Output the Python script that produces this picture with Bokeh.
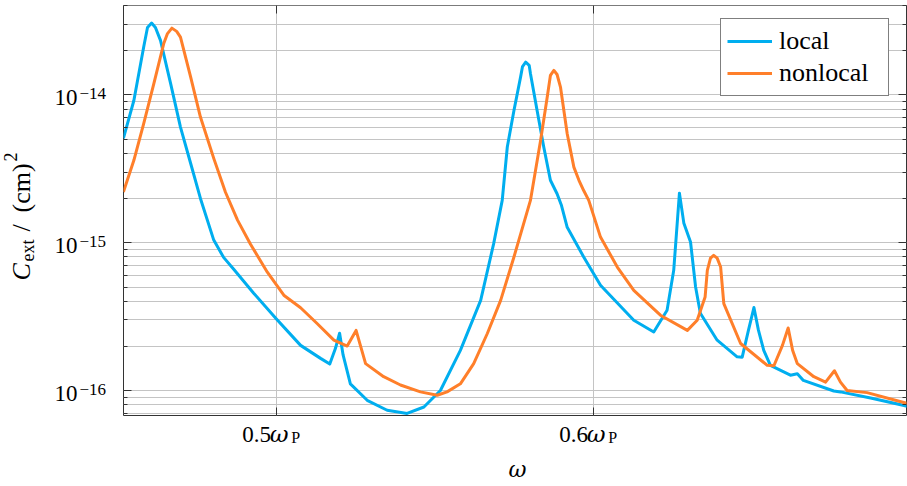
from math import pi
from bokeh.plotting import figure
from bokeh.layouts import row, column
from bokeh.models import (FixedTicker, LogAxis, LinearAxis, Legend,
                          LegendItem, Range1d, CustomJSTickFormatter, LinearScale)
from bokeh.core.properties import value
from bokeh.embed import file_html
from bokeh.resources import INLINE

# ---------------- data ----------------
omega_local = [0.4518, 0.4551, 0.4582, 0.4594, 0.4607, 0.4619, 0.4635, 0.4667,
               0.4698, 0.4730, 0.4761, 0.4803, 0.4834, 0.4866, 0.4929, 0.5000,
               0.5077, 0.5140, 0.5169, 0.5187, 0.5200, 0.5211, 0.5234, 0.5287,
               0.5350, 0.5413, 0.5466, 0.5518, 0.5581, 0.5645, 0.5686, 0.5713,
               0.5729, 0.5750, 0.5771, 0.5777, 0.5787, 0.5798, 0.5802, 0.5823,
               0.5844, 0.5865, 0.5886, 0.5900, 0.5918, 0.5970, 0.6023, 0.6128,
               0.6191, 0.6233, 0.6254, 0.6272, 0.6286, 0.6307, 0.6323, 0.6338,
               0.6391, 0.6454, 0.6470, 0.6490, 0.6507, 0.6521, 0.6538, 0.6559,
               0.6622, 0.6644, 0.6663, 0.6759, 0.6780, 0.6875, 0.6992]
c_local = [5.07e-15, 9.14e-15, 2.10e-14, 2.85e-14, 3.05e-14, 2.85e-14, 2.33e-14, 1.19e-14,
           6.04e-15, 3.44e-15, 1.99e-15, 1.04e-15, 7.95e-16, 6.61e-16, 4.55e-16, 3.06e-16,
           2.02e-16, 1.65e-16, 1.51e-16, 1.93e-16, 2.44e-16, 1.74e-16, 1.11e-16, 8.59e-17,
           7.36e-17, 7.00e-17, 7.74e-17, 1.00e-16, 1.87e-16, 4.07e-16, 9.84e-16, 1.93e-15,
           4.43e-15, 7.83e-15, 1.32e-14, 1.55e-14, 1.66e-14, 1.58e-14, 1.39e-14, 7.83e-15,
           4.43e-15, 2.64e-15, 2.14e-15, 1.78e-15, 1.27e-15, 8.00e-16, 5.15e-16, 2.99e-16,
           2.49e-16, 3.49e-16, 6.50e-16, 2.16e-15, 1.35e-15, 1.01e-15, 5.01e-16, 3.33e-16,
           2.19e-16, 1.69e-16, 1.68e-16, 2.57e-16, 3.64e-16, 2.57e-16, 1.87e-16, 1.48e-16,
           1.27e-16, 1.30e-16, 1.17e-16, 9.93e-17, 9.79e-17, 8.91e-17, 7.83e-17]

omega_nonlocal = [0.4518, 0.4551, 0.4582, 0.4614, 0.4645, 0.4657, 0.4671, 0.4686,
                  0.4698, 0.4730, 0.4761, 0.4803, 0.4840, 0.4878, 0.4919, 0.4972,
                  0.5024, 0.5077, 0.5129, 0.5182, 0.5224, 0.5252, 0.5282, 0.5339,
                  0.5392, 0.5455, 0.5508, 0.5539, 0.5581, 0.5623, 0.5666, 0.5708,
                  0.5750, 0.5802, 0.5834, 0.5855, 0.5865, 0.5876, 0.5886, 0.5897,
                  0.5918, 0.5939, 0.5955, 0.5970, 0.5986, 0.6023, 0.6076, 0.6128,
                  0.6212, 0.6297, 0.6328, 0.6353, 0.6360, 0.6370, 0.6380, 0.6391,
                  0.6402, 0.6412, 0.6465, 0.6549, 0.6570, 0.6597, 0.6615, 0.6629,
                  0.6644, 0.6696, 0.6733, 0.6761, 0.6780, 0.6801, 0.6864, 0.6992]
c_nonlocal = [2.20e-15, 3.60e-15, 6.37e-15, 1.19e-14, 2.21e-14, 2.59e-14, 2.82e-14, 2.68e-14,
              2.45e-14, 1.32e-14, 7.06e-15, 3.71e-15, 2.19e-15, 1.42e-15, 9.75e-16, 6.31e-16,
              4.41e-16, 3.63e-16, 2.84e-16, 2.19e-16, 2.00e-16, 2.55e-16, 1.52e-16, 1.24e-16,
              1.09e-16, 9.79e-17, 9.29e-17, 9.79e-17, 1.11e-16, 1.52e-16, 2.43e-16, 4.07e-16,
              8.00e-16, 1.93e-15, 4.91e-15, 9.64e-15, 1.35e-14, 1.46e-14, 1.37e-14, 1.12e-14,
              5.44e-15, 3.24e-15, 2.64e-15, 2.25e-15, 1.93e-15, 1.09e-15, 6.84e-16, 4.76e-16,
              3.23e-16, 2.55e-16, 2.99e-16, 4.29e-16, 6.50e-16, 7.85e-16, 8.20e-16, 7.85e-16,
              6.84e-16, 3.87e-16, 2.08e-16, 1.48e-16, 1.47e-16, 2.02e-16, 2.65e-16, 1.87e-16,
              1.52e-16, 1.24e-16, 1.14e-16, 1.36e-16, 1.14e-16, 1.00e-16, 9.68e-17, 8.17e-17]

x_ticks = [0.5, 0.6]
x_tick_numbers = ["0.5", "0.6"]
y_ticks = [1e-16, 1e-15, 1e-14]
y_tick_exponents = ["\u221216", "\u221215", "\u221214"]
y_minor_ticks = [m * d for d in (1e-17, 1e-16, 1e-15, 1e-14) for m in range(2, 10)]

series_labels = ["local", "nonlocal"]

BLUE = "#00AEEF"
ORANGE = "#FF7F2A"
GRID = "#c4c4c4"
FRAME = "#333333"
SERIF = "Liberation Serif"
GREEK = "DejaVu Serif"

# ---------------- main plot ----------------
M = figure(width=794, height=417, output_backend="svg", toolbar_location=None,
           x_range=Range1d(0.45183, 0.69883), y_range=Range1d(6.78e-17, 4.01e-14),
           y_axis_type="log",
           min_border_left=10, min_border_right=1, min_border_top=5,
           min_border_bottom=2)
M.background_fill_color = "white"
M.border_fill_color = "white"
M.outline_line_color = FRAME
M.outline_line_width = 1

xt = FixedTicker(ticks=x_ticks, minor_ticks=[])
yt = FixedTicker(ticks=y_ticks, minor_ticks=y_minor_ticks)
blank = CustomJSTickFormatter(code="return '';")


def style_axis(ax, minor=True):
    ax.axis_line_color = None
    ax.major_tick_in = 8
    ax.major_tick_out = 0
    ax.minor_tick_in = 4 if minor else 0
    ax.minor_tick_out = 0
    ax.major_tick_line_color = FRAME
    ax.minor_tick_line_color = FRAME if minor else None
    ax.formatter = blank
    ax.major_label_standoff = 0


M.xaxis.ticker = xt
M.yaxis.ticker = yt
for ax in M.xaxis:
    style_axis(ax, minor=False)
for ax in M.yaxis:
    style_axis(ax)

ax_r = LogAxis(ticker=yt)
style_axis(ax_r)
M.add_layout(ax_r, "right")
ax_t = LinearAxis(ticker=xt)
style_axis(ax_t, minor=False)
M.add_layout(ax_t, "above")

M.xgrid.ticker = xt
M.ygrid.ticker = yt
M.xgrid.grid_line_color = GRID
M.ygrid.grid_line_color = GRID
M.ygrid.minor_grid_line_color = GRID

r1 = M.line(omega_local, c_local, line_color=BLUE, line_width=3, line_join="round")
r2 = M.line(omega_nonlocal, c_nonlocal, line_color=ORANGE, line_width=3, line_join="round")

legend = Legend(items=[LegendItem(label=series_labels[0], renderers=[r1]),
                       LegendItem(label=series_labels[1], renderers=[r2])],
                location=(597, 319), orientation="vertical",
                label_text_font=SERIF, label_text_font_size="26px",
                label_text_color="black",
                border_line_color="black", border_line_width=1,
                background_fill_color="white", background_fill_alpha=1.0,
                glyph_width=45, glyph_height=32, label_height=32, label_width=103,
                label_standoff=7, padding=6, spacing=0, margin=0)
M.add_layout(legend)

# ---------------- left strip: y tick labels and y title ----------------
L = figure(width=113, height=417, output_backend="svg", toolbar_location=None,
           x_range=Range1d(0, 113), y_range=M.y_range, y_axis_type="log",
           x_axis_location=None, y_axis_location=None,
           min_border_left=0, min_border_right=0, min_border_top=5,
           min_border_bottom=2)
L.outline_line_color = None
L.background_fill_color = "white"
L.border_fill_color = "white"
L.grid.grid_line_color = None
L.extra_y_ranges = {"px": Range1d(415, 5)}
L.extra_y_scales = {"px": LinearScale()}

L.text(x=[77] * len(y_ticks), y=y_ticks, text=["10"] * len(y_ticks),
       text_align="right", text_baseline="alphabetic", y_offset=2.5,
       text_font=value(SERIF), text_font_size="23px", text_color="black")
L.text(x=[79] * len(y_ticks), y=y_ticks, text=y_tick_exponents,
       text_align="left", text_baseline="alphabetic", y_offset=-1.5,
       text_font=value(SERIF), text_font_size="17px", text_color="black")

ylab_parts = [("C", 21, 280, "26px", "italic"),
              ("ext", 27.5, 261, "18px", "normal"),
              ("/", 21, 231, "26px", "normal"),
              ("(cm)", 21, 212, "26px", "normal"),
              ("2", 10, 161, "18px", "normal")]
for txt, xx, yy, fs, st in ylab_parts:
    L.text(x=[xx], y=[yy], text=[txt], angle=pi / 2, y_range_name="px",
           text_align="left", text_baseline="alphabetic",
           text_font=value(SERIF), text_font_style=st, text_font_size=fs,
           text_color="black")

# ---------------- bottom strip: x tick labels and x title ----------------
B = figure(width=907, height=69, output_backend="svg", toolbar_location=None,
           x_range=M.x_range, y_range=Range1d(486, 417),
           x_axis_location=None, y_axis_location=None,
           min_border_left=123, min_border_right=1, min_border_top=0,
           min_border_bottom=0)
B.outline_line_color = None
B.background_fill_color = "white"
B.border_fill_color = "white"
B.grid.grid_line_color = None

n = len(x_ticks)
B.text(x=x_ticks, y=[433.5] * n, text=x_tick_numbers, x_offset=-34,
       text_align="left", text_baseline="alphabetic",
       text_font=value(SERIF), text_font_size="23px", text_color="black")
B.text(x=x_ticks, y=[433.5] * n, text=["\u03c9"] * n, x_offset=-6.5,
       text_align="left", text_baseline="alphabetic",
       text_font=value(GREEK), text_font_style="italic", text_font_size="23px",
       text_color="black")
B.text(x=x_ticks, y=[436.5] * n, text=["P"] * n, x_offset=15,
       text_align="left", text_baseline="alphabetic",
       text_font=value(SERIF), text_font_size="16px", text_color="black")

x_mid = (M.x_range.start + M.x_range.end) / 2
B.text(x=[x_mid], y=[469], text=["\u03c9"], x_offset=2.5,
       text_align="center", text_baseline="alphabetic",
       text_font=value(GREEK), text_font_style="italic", text_font_size="22px",
       text_color="black")

page = column(row(L, M), B)
open("out.html", "w").write(file_html(page, INLINE))
